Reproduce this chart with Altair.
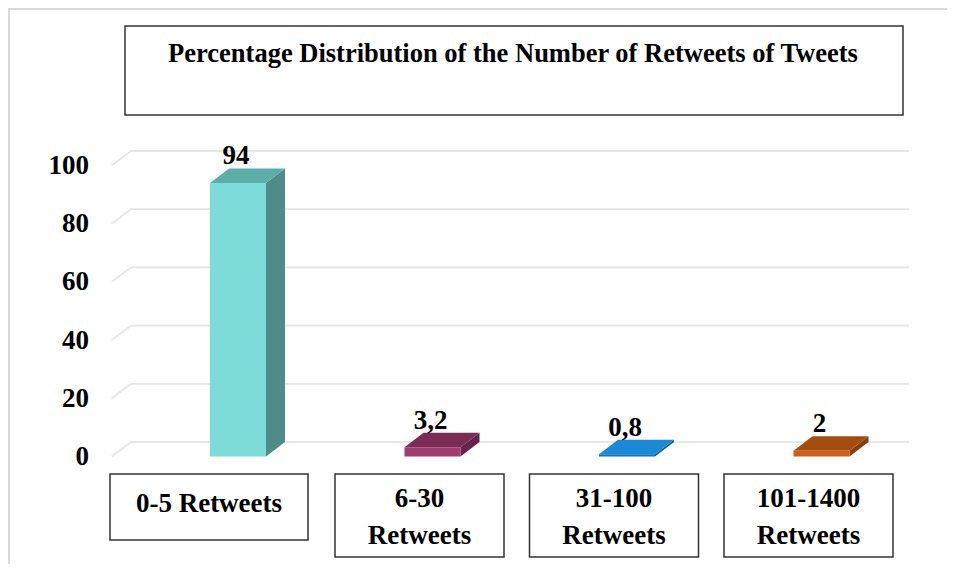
import altair as alt
import pandas as pd

# ---- data ----
categories = ["0-5 Retweets", "6-30 Retweets", "31-100 Retweets", "101-1400 Retweets"]
label_lines = [["0-5 Retweets"], ["6-30", "Retweets"], ["31-100", "Retweets"], ["101-1400", "Retweets"]]
values = [94, 3.2, 0.8, 2]
value_labels = ["94", "3,2", "0,8", "2"]
y_ticks = [0, 20, 40, 60, 80, 100]
title_text = "Percentage Distribution of the Number of Retweets of Tweets"

# ---- styles ----
front_colors = ["#7ddcd8", "#a03c6e", "#0c74c0", "#cf5f18"]
top_colors = ["#5caea9", "#7a2c54", "#1b8ad6", "#a54d0f"]
side_colors = ["#4e8c88", "#66234a", "#0a5d9c", "#8a3d0b"]
FONT = "Liberation Serif"
FS = 27
GRID = "#e6e6e6"

# ---- layout (pixels) ----
W, H = 778, 291
PX_X = 194.5                 # pixels per category step
PX_Y = H / 100.0             # pixels per percent
DX = 19 / PX_X               # 3D depth, x (data units)
DY = 14.5 / PX_Y             # 3D depth, y (data units)
HW = 28 / PX_X               # half bar width
X0 = -126.0 / PX_X
SHIFT_ONE = -29 / PX_X       # label box shift, one-line labels
SHIFT_TWO = -13 / PX_X       # label box shift, two-line labels

def y_of_page(py):
    return (442 - py) / PX_Y

df = pd.DataFrame({
    "cat": categories,
    "i": list(range(len(categories))),
    "v": values,
    "lab": value_labels,
})
lab_df = pd.DataFrame({
    "cat": categories,
    "i": list(range(len(categories))),
    "lines": label_lines,
    "n": [len(l) for l in label_lines],
})
tick_df = pd.DataFrame({"t": y_ticks})
title_df = pd.DataFrame({"t": [title_text]})

xs = alt.Scale(domain=[X0, X0 + W / PX_X], range=[0, W], nice=False, zero=False)
ys = alt.Scale(domain=[0, 100], nice=False, zero=False)

def col(name, rng):
    return alt.Color(f"{name}:N", scale=alt.Scale(domain=categories, range=rng), legend=None)

# outer light border
outer = alt.Chart(title_df).mark_rect(fillOpacity=0, stroke="#d9d9d9", strokeWidth=2).encode(
    x=alt.value(-122), x2=alt.value(900), y=alt.value(-142), y2=alt.value(600)
)

# title box + text
tbox = alt.Chart(title_df).mark_rect(fill="white", stroke="#333333", strokeWidth=1.5).encode(
    x=alt.value(-6), x2=alt.value(772), y=alt.value(-125), y2=alt.value(-36)
)
ttext = alt.Chart(title_df).mark_text(
    font=FONT, fontSize=26.5, fontWeight="bold", color="#000000", align="center", baseline="middle"
).encode(x=alt.value(382), y=alt.value(-97), text="t:N")

# gridlines on the back wall, slanted side-wall edges, and y labels
grid = alt.Chart(tick_df).mark_rule(color=GRID, strokeWidth=1.8).encode(
    x=alt.value(0), x2=alt.value(W),
    y=alt.Y("t:Q", scale=ys, axis=None),
)
diag = alt.Chart(tick_df).transform_calculate(
    t0=f"datum.t - {DY}"
).mark_rule(color=GRID, strokeWidth=1.8).encode(
    x=alt.value(-19.3), x2=alt.value(0),
    y=alt.Y("t0:Q", scale=ys, axis=None), y2="t:Q"
)
ylabels = alt.Chart(tick_df).mark_text(
    font=FONT, fontSize=FS, fontWeight="bold", color="#000000",
    align="right", baseline="middle", dy=15,
).encode(
    x=alt.value(-42),
    y=alt.Y("t:Q", scale=ys, axis=None),
    text="t:Q",
)

base = alt.Chart(df).transform_calculate(cs="datum.cat", ct="datum.cat", cf="datum.cat")

side = base.transform_calculate(k="[0, 1]").transform_flatten(["k"]).transform_calculate(
    xx=f"datum.i - {DX} + {HW} + datum.k * {DX}",
    ylo=f"(datum.k - 1) * {DY}",
    yhi=f"datum.v + (datum.k - 1) * {DY}",
).mark_area(orient="vertical").encode(
    x=alt.X("xx:Q", scale=xs, axis=None),
    y=alt.Y("ylo:Q", scale=ys, axis=None, stack=None),
    y2="yhi:Q",
    detail="cat:N",
    color=col("cs", side_colors),
)

top = base.transform_calculate(k="[0, 1, 2, 3]").transform_flatten(["k"]).transform_calculate(
    xx=f"datum.i + [-{DX} - {HW}, -{HW}, -{DX} + {HW}, {HW}][datum.k]",
    ylo=f"datum.v + [-{DY}, -{DY}, -{DY}, 0][datum.k]",
    yhi=f"datum.v + [-{DY}, 0, 0, 0][datum.k]",
).mark_area(orient="vertical").encode(
    x=alt.X("xx:Q", scale=xs, axis=None),
    y=alt.Y("ylo:Q", scale=ys, axis=None, stack=None),
    y2="yhi:Q",
    detail="cat:N",
    color=col("ct", top_colors),
)

front = base.transform_calculate(
    x0=f"datum.i - {DX} - {HW}",
    x1=f"datum.i - {DX} + {HW}",
    y0=f"-{DY}",
    y1=f"datum.v - {DY}",
).mark_rect().encode(
    x=alt.X("x0:Q", scale=xs, axis=None), x2="x1:Q",
    y=alt.Y("y0:Q", scale=ys, axis=None), y2="y1:Q",
    color=col("cf", front_colors),
)

vlabels = base.transform_calculate(
    xx=f"datum.i - {DX}"
).mark_text(
    font=FONT, fontSize=FS, fontWeight="bold", color="#000000",
    align="center", baseline="alphabetic", dy=-4, dx=-2,
).encode(
    x=alt.X("xx:Q", scale=xs, axis=None),
    y=alt.Y("v:Q", scale=ys, axis=None),
    text="lab:N",
)

# category label boxes
one_w = 198 / PX_X / 2
two_w = 169 / PX_X / 2
boxes = alt.Chart(lab_df).transform_calculate(
    cx=f"datum.i - {DX} + (datum.n == 1 ? {SHIFT_ONE} : {SHIFT_TWO})",
).transform_calculate(
    bx0=f"datum.cx - (datum.n == 1 ? {one_w} : {two_w})",
    bx1=f"datum.cx + (datum.n == 1 ? {one_w} : {two_w})",
    by0=f"{y_of_page(474)}",
    by1=f"datum.n == 1 ? {y_of_page(540)} : {y_of_page(557)}",
).mark_rect(fill="white", stroke="#333333", strokeWidth=1.5).encode(
    x=alt.X("bx0:Q", scale=xs, axis=None), x2="bx1:Q",
    y=alt.Y("by0:Q", scale=ys, axis=None), y2="by1:Q",
)
btext = alt.Chart(lab_df).transform_calculate(
    tx=f"datum.i - {DX} + (datum.n == 1 ? {SHIFT_ONE} : {SHIFT_TWO})",
    ty=f"datum.n == 1 ? {y_of_page(504)} : {y_of_page(499)}",
).mark_text(
    font=FONT, fontSize=FS, fontWeight="bold", color="#000000",
    align="center", baseline="middle", lineHeight=37,
).encode(
    x=alt.X("tx:Q", scale=xs, axis=None),
    y=alt.Y("ty:Q", scale=ys, axis=None),
    text="lines",
)

chart = alt.layer(
    outer, tbox, ttext, grid, diag, ylabels, side, top, front, vlabels, boxes, btext
).resolve_scale(
    color="independent"
).properties(
    width=W, height=H,
    autosize=alt.AutoSizeParams(type="none"),
    padding={"left": 123, "top": 143, "right": 38, "bottom": 122},
    background="white",
).configure_view(strokeOpacity=0)

chart.save("out.html", embed_options={"renderer": "svg", "actions": False})
